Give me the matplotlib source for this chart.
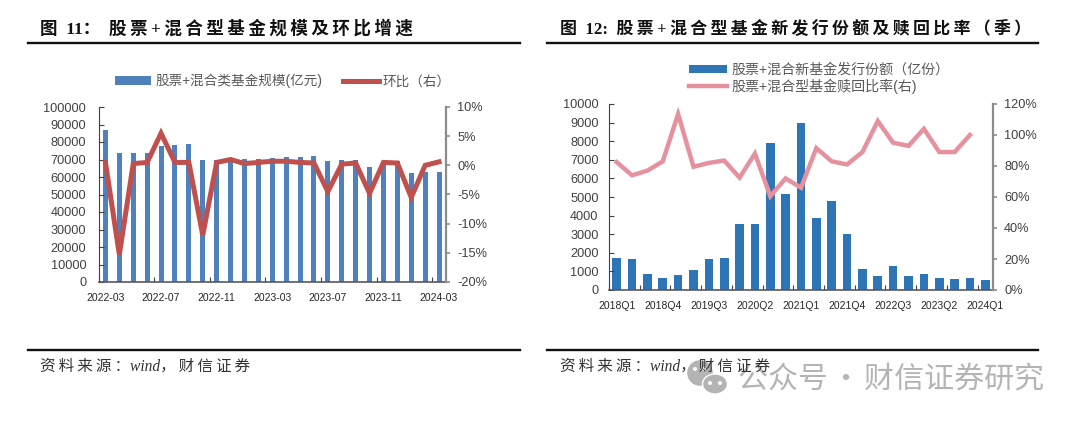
"""plot.py -- equity + hybrid fund size and new issuance, two panel report figure."""

import matplotlib

matplotlib.use("Agg")
import matplotlib.pyplot as plt
from matplotlib.lines import Line2D
from matplotlib.patches import Ellipse

W, H = 1080, 422
CJK = ["Liberation Serif", "Noto Sans CJK SC", "DejaVu Sans"]
LABEL = ["Liberation Sans", "Noto Sans CJK SC", "DejaVu Sans"]
THIN = "\u2009"
HAIR = "\u200a"

months = [
    "2022-03", "2022-04", "2022-05", "2022-06", "2022-07", "2022-08", "2022-09",
    "2022-10", "2022-11", "2022-12", "2023-01", "2023-02", "2023-03", "2023-04",
    "2023-05", "2023-06", "2023-07", "2023-08", "2023-09", "2023-10", "2023-11",
    "2023-12", "2024-01", "2024-02", "2024-03",
]
fund_size = [
    87000, 74000, 74000, 74000, 78000, 78500, 79000, 69500, 69500, 70000, 70500,
    70500, 71000, 71500, 71500, 72000, 69000, 69500, 69500, 66000, 69000, 69000,
    62500, 63000, 63000,
]
fund_qoq = [
    0.5, -15.3, 0.3, 0.5, 5.5, 0.5, 0.5, -12.0, 0.5, 1.0, 0.3, 0.5, 0.7, 0.7, 0.5,
    0.4, -4.5, 0.2, 0.4, -4.8, 0.5, 0.4, -5.5, 0.0, 0.6,
]

quarters = [
    "2018Q1", "2018Q2", "2018Q3", "2018Q4", "2019Q1", "2019Q2", "2019Q3", "2019Q4",
    "2020Q1", "2020Q2", "2020Q3", "2020Q4", "2021Q1", "2021Q2", "2021Q3", "2021Q4",
    "2022Q1", "2022Q2", "2022Q3", "2022Q4", "2023Q1", "2023Q2", "2023Q3", "2023Q4",
    "2024Q1",
]
new_shares = [
    1700, 1650, 850, 650, 800, 1050, 1650, 1700, 3550, 3550, 7900, 5150, 9000, 3850,
    4800, 3000, 1150, 750, 1280, 750, 850, 650, 580, 650, 530,
]
redeem_ratio = [
    82.5, 74, 77, 83, 113.5, 79.5, 82, 83.5, 72.5, 88, 60.5, 72, 66, 91.5, 83, 81,
    89, 109, 95, 93, 104, 89, 89, 100,
]


def spaced(text):
    """Report titles are letter spaced, so put a thin space between characters."""
    return THIN.join(text)


def add_panel(fig, left, right, top, bottom):
    rect = [left / W, 1 - bottom / H, (right - left) / W, (bottom - top) / H]
    ax = fig.add_axes(rect)
    ax2 = ax.twinx()
    ax.set_zorder(1)
    ax2.set_zorder(2)
    ax2.patch.set_visible(False)
    return ax, ax2


def style_panel(ax, ax2, labels, step, tick_step, ypad, ylim, yticks, y2lim, y2ticks):
    n = len(labels)
    ax.set_xlim(-0.5, n - 0.5)
    ax.set_ylim(*ylim)
    ax.set_yticks(yticks)
    ax2.set_ylim(*y2lim)
    ax2.set_yticks(y2ticks)
    ax2.set_yticklabels([f"{v}%" for v in y2ticks])

    # ticks sit on the category boundaries, labels on the category centres
    ax.set_xticks([i - 0.5 for i in range(0, n + 1, tick_step)])
    ax.set_xticklabels([])
    ax.set_xticks(list(range(0, n, step)), minor=True)
    ax.set_xticklabels([labels[i] for i in range(0, n, step)], minor=True)
    ax.tick_params(axis="x", which="major", direction="in", length=3.5, width=0.8, color="#404040")
    ax.tick_params(axis="x", which="minor", length=0, pad=8, labelsize=7.5, labelcolor="#262626")
    ax.tick_params(axis="y", direction="in", length=3.5, width=0.8, color="#404040", labelsize=9.2,
                   labelcolor="#404040", pad=ypad)
    ax2.tick_params(axis="y", direction="out", length=3, width=1.2, color="#8c8c8c", labelsize=9.2,
                    labelcolor="#404040", pad=5)

    for a in (ax, ax2):
        a.spines["top"].set_visible(False)
    ax.spines["right"].set_visible(False)
    ax2.spines["left"].set_visible(False)
    ax2.spines["bottom"].set_visible(False)
    ax.spines["left"].set_color("#404040")
    ax.spines["left"].set_linewidth(0.8)
    ax.spines["bottom"].set_color("#595959")
    ax.spines["bottom"].set_linewidth(1.2)
    ax2.spines["right"].set_color("#8c8c8c")
    ax2.spines["right"].set_linewidth(1.6)

    for t in ax.get_xticklabels(minor=True) + ax.get_yticklabels() + ax2.get_yticklabels():
        t.set_family("Liberation Sans")


def add_frame(fig, x0, x1, title, size, text_x):
    for y in (43, 350):
        fig.add_artist(Line2D([x0 / W, x1 / W], [1 - y / H] * 2, color="#111111", lw=1.7))
    fig.text(text_x / W, 1 - 29 / H, title, family=CJK, fontsize=size, fontweight="bold",
             color="#111111", va="center", ha="left")
    # the source line shows through the watermark in the reference, so it goes on top
    fig.text(text_x / W, 1 - 367 / H, spaced("资料来源：") + "wind" + spaced("，财信证券"),
             family=CJK, fontsize=11.2, style="italic", color="#333333", va="center", ha="left",
             zorder=8)


def add_watermark(fig):
    gray = "#b4b4b4"
    for cx, cy, w, h in [(700, 373, 27, 27), (715, 384, 25, 20)]:
        fig.add_artist(Ellipse((cx / W, 1 - cy / H), w / W, h / H, transform=fig.transFigure,
                               facecolor=gray, edgecolor="white", lw=1.0, zorder=5))
    for cx, cy in [(695, 369), (704, 369), (710, 383), (720, 383)]:
        fig.add_artist(Ellipse((cx / W, 1 - cy / H), 4 / W, 4 / H, transform=fig.transFigure,
                               facecolor="white", edgecolor="none", zorder=5))
    fig.text(738 / W, 1 - 379 / H, f"公众号{HAIR}·{HAIR}财信证券研究",
             family=["Noto Sans CJK SC", "DejaVu Sans"],
             fontsize=21.6, color=gray, va="center", ha="left", zorder=6)


def main():
    fig = plt.figure(figsize=(W / 100, H / 100), dpi=100, facecolor="white")

    ax, ax2 = add_panel(fig, 98.5, 446, 107, 282)
    bars = ax.bar(range(len(months)), fund_size, width=0.36, color="#4f81bd",
                  label="股票+混合类基金规模(亿元)")
    line, = ax2.plot(range(len(months)), fund_qoq, color="#c0504d", lw=3.6,
                     solid_joinstyle="miter", label="环比（右）")
    style_panel(ax, ax2, months, 4, 4, 8.9, (0, 100000), list(range(0, 100001, 10000)),
                (-20, 10), list(range(-20, 11, 5)))
    fig.legend(handles=[bars, line], loc="center", bbox_to_anchor=(283 / W, 1 - 81 / H), ncol=2,
               frameon=False, prop={"family": LABEL, "size": 9.8}, labelcolor="#595959",
               handlelength=2.65, handletextpad=0.3, columnspacing=1.5, handleheight=0.55,
               borderpad=0, borderaxespad=0)

    ax, ax2 = add_panel(fig, 609, 993, 104, 290)
    bars = ax.bar(range(len(quarters)), new_shares, width=0.56, color="#2e75b6",
                  label="股票+混合新基金发行份额（亿份）")
    line, = ax2.plot(range(len(redeem_ratio)), redeem_ratio, color="#e6929e", lw=3.2,
                     solid_joinstyle="miter", label="股票+混合型基金赎回比率(右)")
    style_panel(ax, ax2, quarters, 3, 2, 7.5, (0, 10000), list(range(0, 10001, 1000)),
                (0, 120), list(range(0, 121, 20)))
    fig.legend(handles=[bars, line], loc="upper left", bbox_to_anchor=(689 / W, 1 - 63 / H), ncol=1,
               frameon=False, prop={"family": LABEL, "size": 10.1}, labelcolor="#595959",
               handlelength=2.7, handletextpad=0.3, labelspacing=0.1, handleheight=0.55,
               borderaxespad=0, borderpad=0)

    add_frame(fig, 28, 520, "图  11：  " + spaced("股票+混合型基金规模及环比增速"), 12.6, 40)
    add_frame(fig, 547, 1038, "图  12:  " + spaced("股票+混合型基金新发行份额及赎回比率（季）"), 12.2, 560)
    add_watermark(fig)

    fig.savefig("out.png", dpi=100)
    plt.close(fig)


if __name__ == "__main__":
    main()
